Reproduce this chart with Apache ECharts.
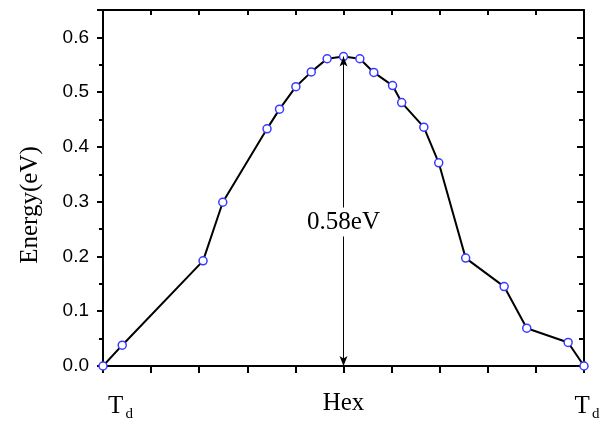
<!DOCTYPE html>
<html>
<head>
<meta charset="utf-8">
<script src="https://cdn.jsdelivr.net/npm/echarts@6/dist/echarts.min.js"></script>
<style>
  html, body { margin: 0; padding: 0; background: #fff; }
  #chart { width: 605px; height: 421px; }
</style>
</head>
<body>
<div id="chart"></div>
<script>
// path coordinate (0 = Td, 5 = Hex, 10 = Td) and energy in eV
const pathX = [0, 0.40, 2.08, 2.49, 3.41, 3.67, 4.01, 4.33, 4.66, 5.0, 5.34, 5.63, 6.02, 6.21, 6.67, 6.98, 7.54, 8.34, 8.81, 9.67, 10]
const energy = [0, 0.038, 0.192, 0.299, 0.433, 0.469, 0.510, 0.537, 0.561, 0.565, 0.561, 0.536, 0.512, 0.481, 0.436, 0.371, 0.197, 0.145, 0.069, 0.043, 0]
const xLabels = { 0: '{tl|T}{s|d}', 5: '{h|Hex}', 10: '{tr|T}{s|d}' }
const barrierLabel = '0.58eV'
const barrierX = 5
const barrierTop = 0.565
const labelY = 0.263

const chart = echarts.init(document.getElementById('chart'))
const serif = '"Liberation Serif", "Times New Roman", serif'
const sans = '"Liberation Sans", Arial, sans-serif'

const option = {
	animation: false,
	grid: { left: 103, right: 21, top: 10, bottom: 55, outerBoundsMode: 'none' },
	xAxis: [
		{
			type: 'value', min: 0, max: 10, interval: 1,
			axisLine: { onZero: false, lineStyle: { color: '#000', width: 2 } },
			axisTick: { inside: false, length: 7, lineStyle: { color: '#000', width: 2 } },
			splitLine: { show: false },
			axisLabel: {
				margin: 25,
				formatter: function (v) { return xLabels[v] || '' },
				color: '#000',
				rich: {
					tl: { fontFamily: serif, fontSize: 25, color: '#000', padding: [0, 0, 0, 35] },
					tr: { fontFamily: serif, fontSize: 25, color: '#000', padding: [0, 0, 0, 6] },
					h: { fontFamily: serif, fontSize: 25, color: '#000' },
					s: { fontFamily: serif, fontSize: 15, color: '#000', verticalAlign: 'bottom', padding: [16, 0, 0, 2] }
				}
			}
		},
		{
			type: 'value', position: 'top', min: 0, max: 10, interval: 1,
			axisLine: { onZero: false, lineStyle: { color: '#000', width: 2 } },
			axisTick: { inside: true, length: 5, lineStyle: { color: '#000', width: 2 } },
			axisLabel: { show: false },
			splitLine: { show: false }
		}
	],
	yAxis: [
		{
			type: 'value', min: 0, max: 0.65, interval: 0.1,
			name: 'Energy(eV)', nameLocation: 'middle', nameGap: 60, nameRotate: 90,
			nameTextStyle: { fontFamily: serif, fontSize: 25, color: '#000', padding: [0, 34, 0, 0] },
			axisLine: { onZero: false, lineStyle: { color: '#000', width: 2 } },
			axisTick: { inside: false, length: 6, lineStyle: { color: '#000', width: 2 } },
			minorTick: { show: true, splitNumber: 2, length: 4, lineStyle: { color: '#000', width: 2 } },
			splitLine: { show: false },
			axisLabel: {
				showMaxLabel: false, margin: 14,
				formatter: function (v) { return v.toFixed(1) },
				fontFamily: sans, fontSize: 19, color: '#000'
			}
		},
		{
			type: 'value', position: 'right', min: 0, max: 0.65, interval: 0.1,
			axisLine: { onZero: false, lineStyle: { color: '#000', width: 2 } },
			axisTick: { inside: true, length: 7, lineStyle: { color: '#000', width: 2 } },
			minorTick: { show: true, splitNumber: 2, length: 5, lineStyle: { color: '#000', width: 2 } },
			splitLine: { show: false },
			axisLabel: { show: false }
		}
	],
	series: [
		{
			type: 'line',
			data: pathX.map((x, i) => [x, energy[i]]),
			symbol: 'circle', symbolSize: 8,
			lineStyle: { color: '#000', width: 2 },
			itemStyle: { color: '#fff', borderColor: '#3a3aff', borderWidth: 1.5 },
			z: 3,
			markLine: {
				silent: true,
				symbol: ['arrow', 'arrow'],
				symbolSize: [6, 10],
				label: { show: false },
				lineStyle: { color: '#000', width: 1, type: 'solid' },
				data: [[{ coord: [barrierX, 0] }, { coord: [barrierX, barrierTop] }]]
			}
		},
		{
			type: 'scatter',
			data: [[barrierX, labelY]],
			symbolSize: 0,
			z: 5,
			itemStyle: { opacity: 1 },
			label: {
				show: true, position: 'inside',
				formatter: barrierLabel,
				fontFamily: serif, fontSize: 25, color: '#000',
				textBorderWidth: 0,
				backgroundColor: '#fff', padding: [2, 1]
			}
		}
	]
}
chart.setOption(option)
</script>
</body>
</html>
